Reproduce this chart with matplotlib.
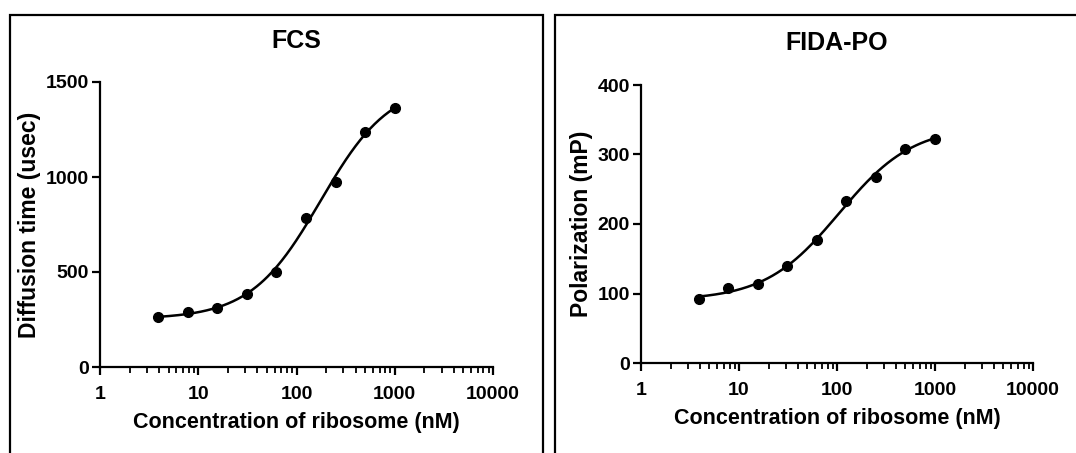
import numpy as np
import matplotlib
matplotlib.use("Agg")
import matplotlib.pyplot as plt
from matplotlib.patches import Rectangle
from matplotlib.ticker import LogLocator, FixedLocator, NullFormatter

plt.rcParams["font.family"] = ["Liberation Sans", "DejaVu Sans"]
plt.rcParams["font.weight"] = "bold"

# two-fold dilution series of ribosome (nM)
conc = [3.9, 7.8, 15.6, 31.25, 62.5, 125, 250, 500, 1000]
fcs_time = [263, 289, 312, 386, 500, 786, 974, 1237, 1365]
fida_pol = [92, 108, 113, 140, 177, 233, 268, 308, 323]

xlabel = "Concentration of ribosome (nM)"
panels = [
    ("FCS", "Diffusion time (usec)", fcs_time, [0, 500, 1000, 1500]),
    ("FIDA-PO", "Polarization (mP)", fida_pol, [0, 100, 200, 300, 400]),
]


def fit_4pl(x, y):
    # sigmoidal dose-response fit; bottom/top solved linearly per grid point
    x = np.asarray(x, float)
    y = np.asarray(y, float)
    best = None
    for ec50 in np.logspace(0.5, 4, 300):
        for hill in np.linspace(0.4, 2.5, 85):
            f = 1.0 / (1.0 + (ec50 / x) ** hill)
            A = np.column_stack([np.ones_like(x), f])
            coef, *_ = np.linalg.lstsq(A, y, rcond=None)
            sse = np.sum((A @ coef - y) ** 2)
            if best is None or sse < best[0]:
                best = (sse, coef[0], coef[1], ec50, hill)
    _, b, span, ec50, hill = best
    return lambda t: b + span / (1.0 + (ec50 / t) ** hill)


W, H = 1076, 453
fig = plt.figure(figsize=(W / 100, H / 100), dpi=100)

# panel frames (bottom and right sides run off the picture)
for x0, x1 in [(10, 543), (555, 1090)]:
    fig.patches.append(Rectangle((x0 / W, -0.2), (x1 - x0) / W, 1.2 - 15 / H,
                                 transform=fig.transFigure, fill=False,
                                 edgecolor="black", linewidth=1.6))

axes_px = [(100, 493, 82, 367), (641, 1033, 85, 363)]
title_y = [41, 43]

for (title, ylabel, vals, yticks), (l, r, t, b), ty in zip(panels, axes_px, title_y):
    ax = fig.add_axes([l / W, 1 - b / H, (r - l) / W, (b - t) / H])
    ax.set_xscale("log")
    ax.set_xlim(1, 10000)
    ax.set_ylim(0, yticks[-1])

    model = fit_4pl(conc, vals)
    xs = np.logspace(np.log10(conc[0]), np.log10(conc[-1]), 200)
    ax.plot(xs, model(xs), color="black", linewidth=1.8, clip_on=False)
    ax.plot(conc, vals, "o", color="black", markersize=7, clip_on=False)

    for side in ["top", "right"]:
        ax.spines[side].set_visible(False)
    for side in ["left", "bottom"]:
        ax.spines[side].set_linewidth(1.6)

    ax.set_yticks(yticks)
    ax.xaxis.set_major_locator(FixedLocator([1, 10, 100, 1000, 10000]))
    ax.xaxis.set_major_formatter(plt.FuncFormatter(lambda v, p: f"{v:.0f}"))
    ax.xaxis.set_minor_locator(LogLocator(base=10, subs=np.arange(2, 10)))
    ax.xaxis.set_minor_formatter(NullFormatter())
    ax.tick_params(axis="both", which="major", labelsize=14, width=1.6,
                   length=6, direction="out", pad=8)
    ax.tick_params(axis="x", which="minor", width=1.3, length=4, direction="out")
    ax.tick_params(axis="y", which="major", pad=2)

    fig.text((l + r) / 2 / W, 1 - ty / H, title, fontsize=18,
             fontweight="bold", ha="center", va="center")
    ax.set_xlabel(xlabel, fontsize=15.5, fontweight="bold", labelpad=6)
    ax.set_ylabel(ylabel, fontsize=16.5, fontweight="bold", labelpad=3)

fig.savefig("out.png", dpi=100)
